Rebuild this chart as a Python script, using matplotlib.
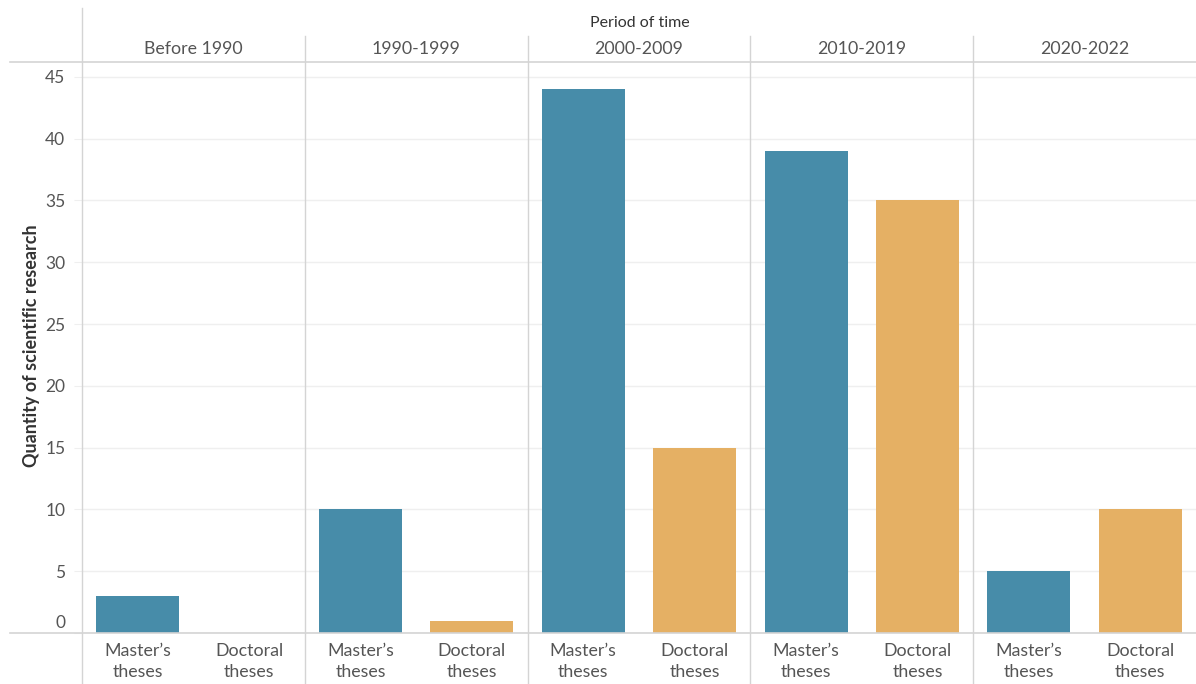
import matplotlib
matplotlib.use("Agg")
import matplotlib.pyplot as plt
import matplotlib.transforms as mtransforms
import numpy as np

periods = ["Before 1990", "1990-1999", "2000-2009", "2010-2019", "2020-2022"]
types = ["Master\u2019s\ntheses", "Doctoral\ntheses"]
masters = [3, 10, 44, 39, 5]
doctoral = [0, 1, 15, 35, 10]
yticks = [0, 5, 10, 15, 20, 25, 30, 35, 40, 45]

BLUE = "#478CA9"
ORANGE = "#E5B064"
LINE = "#D4D4D4"
GRID = "#EFEFEF"
TXT = "#555555"

plt.rcParams['font.family'] = ['Lato', 'DejaVu Sans']

W, H = 1196, 684
fig = plt.figure(figsize=(W / 100, H / 100), dpi=100)
x0, x1, ytop, ybot = 82, 1196, 62, 633
ax = fig.add_axes([x0 / W, 1 - ybot / H, (x1 - x0) / W, (ybot - ytop) / H])

n = len(periods)
xm = np.arange(n) * 2
xd = xm + 1
bw = 0.745
ax.bar(xm, masters, width=bw, color=BLUE, zorder=3)
ax.bar(xd, doctoral, width=bw, color=ORANGE, zorder=3)

ax.set_xlim(-0.5, 2 * n - 0.5)
ax.set_ylim(0, 46.2)
ax.set_yticks(yticks)
ax.set_yticklabels([str(t) for t in yticks], color=TXT, fontsize=12.5)
ax.yaxis.grid(True, color=GRID, linewidth=1, zorder=0)
ax.tick_params(axis='y', length=6, color=GRID, pad=6)
ax.tick_params(axis='x', length=0, pad=7)
ax.set_xticks(list(xm) + list(xd))
ax.set_xticklabels([types[0]] * n + [types[1]] * n, color=TXT, fontsize=12.8,
                   linespacing=1.42)
for s in ax.spines.values():
    s.set_visible(False)

# lift the "0" label above the baseline as in the reference
lbl0 = ax.get_yticklabels()[0]
lbl0.set_transform(lbl0.get_transform() + mtransforms.ScaledTranslation(0, 11 / 100, fig.dpi_scale_trans))

def fx(px):
    return px / W
def fy(py):
    return 1 - py / H

for i in range(1, n):
    xs = ax.transData.transform((2 * i - 0.5, 0))[0] / fig.dpi / fig.get_figwidth()
    fig.add_artist(plt.Line2D([xs, xs], [fy(684), fy(36)], color=LINE, lw=1, zorder=5))
fig.add_artist(plt.Line2D([fx(82), fx(82)], [fy(684), fy(8)], color=LINE, lw=1, zorder=5))
fig.add_artist(plt.Line2D([fx(10), fx(1196)], [fy(62), fy(62)], color=LINE, lw=1.2, zorder=5))
fig.add_artist(plt.Line2D([fx(10), fx(1196)], [fy(633), fy(633)], color=LINE, lw=1.2, zorder=5))

for i, p in enumerate(periods):
    xc = ax.transData.transform((2 * i + 0.5, 0))[0] / fig.dpi / fig.get_figwidth()
    fig.text(xc, fy(49), p, ha='center', va='center', color=TXT, fontsize=12.8)
fig.text(fx(640), fy(23), "Period of time", ha='center', va='center',
         color="#333333", fontsize=11.5)
fig.text(fx(32), fy(346), "Quantity of scientific research", rotation=90,
         ha='center', va='center', color="#333333", fontsize=13, fontweight='bold')

fig.savefig("out.png", dpi=100, facecolor="white")
